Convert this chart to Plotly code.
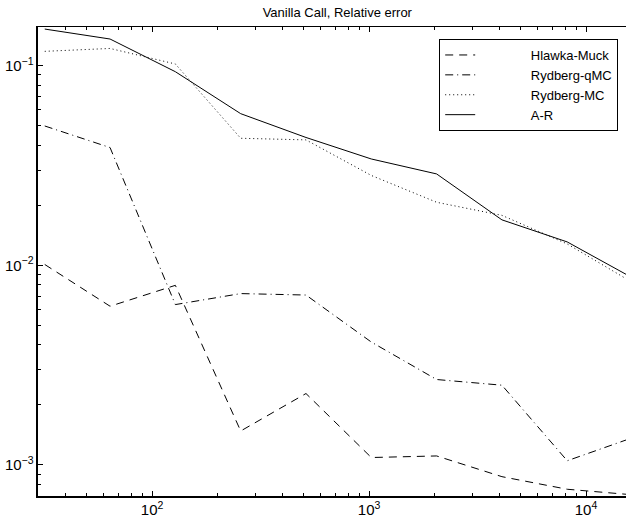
import plotly.graph_objects as go

n_points = [32, 64, 128, 256, 512, 1024, 2048, 4096, 8192, 16384]
hlawka_muck = [0.0101, 0.00624, 0.00794, 0.00148, 0.00228, 0.00109, 0.00111, 0.000874, 0.000756, 0.000709]
rydberg_qmc = [0.0499, 0.0389, 0.00636, 0.00722, 0.0071, 0.00413, 0.00268, 0.00251, 0.00105, 0.00137]
rydberg_mc = [0.118, 0.122, 0.102, 0.0433, 0.0425, 0.0282, 0.0207, 0.0178, 0.0128, 0.0082]
a_r = [0.1526, 0.136, 0.0933, 0.0575, 0.0437, 0.0341, 0.0287, 0.0169, 0.0131, 0.00865]

series_names = ["Hlawka-Muck", "Rydberg-qMC", "Rydberg-MC", "A-R"]
series_values = [hlawka_muck, rydberg_qmc, rydberg_mc, a_r]
series_dash = ["8px,6px", "8px,4px,1px,4px", "1px,3px", "solid"]

pad = "\u00a0" * 14
fig = go.Figure()
for name, vals, dash in zip(series_names, series_values, series_dash):
    fig.add_trace(go.Scatter(
        x=n_points, y=vals, mode="lines", name=pad + name,
        line=dict(color="black", width=1, dash=dash),
    ))

font = "Liberation Sans, Arial, Helvetica, sans-serif"
fig.update_layout(
    width=626, height=519,
    margin=dict(l=38, r=0, t=27, b=23, autoexpand=False),
    paper_bgcolor="white", plot_bgcolor="white",
    font=dict(family=font, size=12, color="black"),
    title=dict(text="Vanilla Call, Relative error", x=0.509, xref="paper", xanchor="center",
               y=1 - 12 / 519, yanchor="middle", font=dict(size=13), automargin=False),
    showlegend=True,
    legend=dict(x=0.6823, xanchor="left", y=0.9744, yanchor="top",
                bordercolor="black", borderwidth=1, bgcolor="white",
                font=dict(size=13), itemwidth=30),
    xaxis=dict(type="log", range=[1.4741, 4.1842], showgrid=False, zeroline=False,
               showline=True, linecolor="black", linewidth=2, automargin=False,
               ticks="inside", ticklen=5, tickcolor="black",
               dtick=1, exponentformat="power",
               minor=dict(ticks="inside", ticklen=3, tickcolor="black", showgrid=False)),
    xaxis2=dict(type="log", range=[1.4741, 4.1842], overlaying="x", side="top",
                showgrid=False, zeroline=False, showline=True, linecolor="black", linewidth=1,
                automargin=False,
                ticks="inside", ticklen=5, tickcolor="black", dtick=1, showticklabels=False,
                minor=dict(ticks="inside", ticklen=3, tickcolor="black", showgrid=False)),
    yaxis=dict(type="log", range=[-3.1553, -0.8062], showgrid=False, zeroline=False,
               showline=True, linecolor="black", linewidth=2, automargin=False,
               ticks="inside", ticklen=5, tickcolor="black",
               dtick=1, exponentformat="power",
               minor=dict(ticks="inside", ticklen=3, tickcolor="black", showgrid=False)),
)
fig.add_trace(go.Scatter(x=[n_points[0]], y=[a_r[0]], xaxis="x2", mode="markers",
                         marker=dict(opacity=0), showlegend=False, hoverinfo="skip"))

fig.write_html("out.html", config={"displayModeBar": False},
               post_script="document.body.style.margin='0';document.body.style.overflow='hidden';")
